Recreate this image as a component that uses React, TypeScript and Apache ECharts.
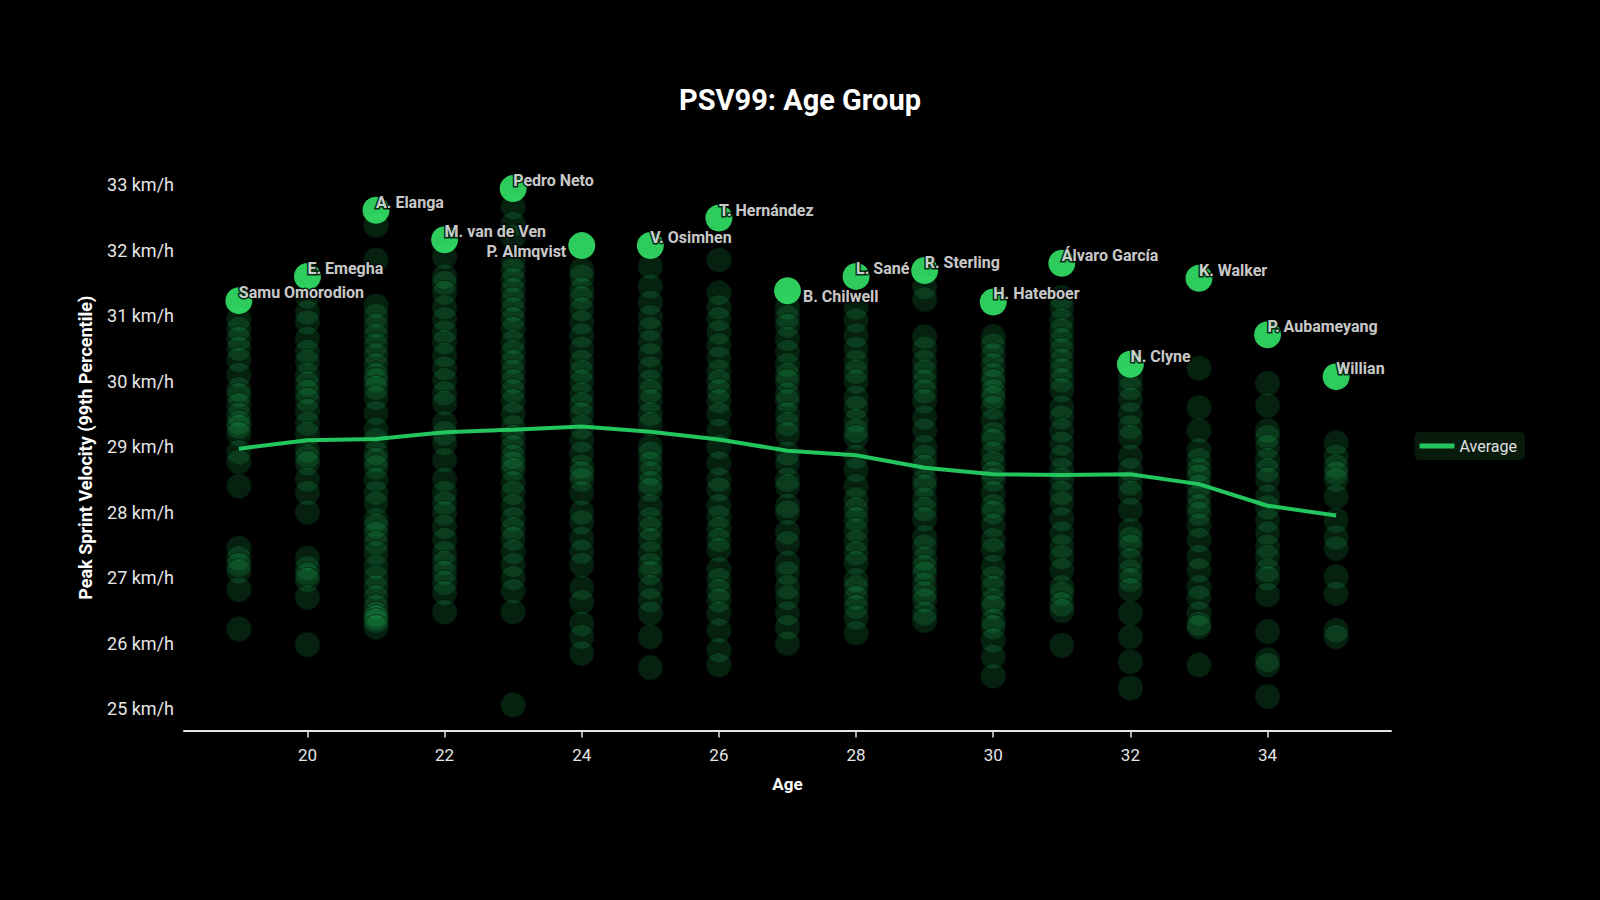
import React, { useEffect, useRef } from "react";
import * as echarts from "echarts";

const ages = [19, 20, 21, 22, 23, 24, 25, 26, 27, 28, 29, 30, 31, 32, 33, 34, 35];
const averageSpeed = [28.97, 29.1, 29.12, 29.22, 29.26, 29.31, 29.23, 29.11, 28.94, 28.87, 28.68, 28.58, 28.57, 28.58, 28.43, 28.1, 27.95];

const topNames = ["Samu Omorodion", "E. Emegha", "A. Elanga", "M. van de Ven", "Pedro Neto", "P. Almqvist", "V. Osimhen", "T. Hernández", "B. Chilwell", "L. Sané", "R. Sterling", "H. Hateboer", "Álvaro García", "N. Clyne", "K. Walker", "P. Aubameyang", "Willian"];
const topSpeeds = [31.23, 31.6, 32.61, 32.16, 32.94, 32.07, 32.07, 32.49, 31.38, 31.6, 31.69, 31.21, 31.8, 30.26, 31.57, 30.71, 30.07];

const age19 = [30.95, 30.8, 30.65, 30.5, 30.33, 30.1, 29.88, 29.79, 29.64, 29.49, 29.37, 29.31, 29.2, 28.92, 28.77, 28.4, 27.45, 27.3, 27.2, 27.1, 26.82, 26.22];
const age20 = [31.3, 31.05, 30.9, 30.65, 30.45, 30.3, 30.1, 29.97, 29.84, 29.72, 29.55, 29.36, 29.2, 28.95, 28.85, 28.75, 28.5, 28.3, 28.0, 27.3, 27.15, 27.05, 26.97, 26.7, 25.98];
const age21 = [32.38, 31.85, 31.15, 31.0, 30.85, 30.7, 30.55, 30.4, 30.25, 30.1, 30.02, 29.9, 29.75, 29.52, 29.26, 29.11, 28.91, 28.8, 28.69, 28.5, 28.3, 28.14, 27.89, 27.8, 27.68, 27.53, 27.38, 27.17, 27.01, 26.86, 26.71, 26.56, 26.45, 26.4, 26.35, 26.25];
const age22 = [31.9, 31.6, 31.5, 31.35, 31.13, 30.95, 30.75, 30.6, 30.4, 30.2, 30.02, 29.82, 29.67, 29.36, 29.21, 29.06, 28.8, 28.5, 28.3, 28.14, 27.99, 27.78, 27.58, 27.38, 27.23, 27.08, 26.93, 26.77, 26.48];
const age23 = [32.66, 32.4, 32.2, 31.85, 31.7, 31.55, 31.4, 31.25, 31.1, 30.95, 30.8, 30.6, 30.45, 30.3, 30.15, 30.0, 29.85, 29.7, 29.5, 29.3, 29.15, 29.0, 28.85, 28.75, 28.65, 28.45, 28.3, 28.1, 27.9, 27.75, 27.6, 27.4, 27.2, 27.0, 26.8, 26.48, 25.06];
const age24 = [31.7, 31.6, 31.4, 31.27, 31.1, 30.9, 30.7, 30.5, 30.3, 30.15, 30.0, 29.8, 29.65, 29.5, 29.3, 29.1, 28.9, 28.7, 28.6, 28.5, 28.3, 28.0, 27.85, 27.6, 27.4, 27.2, 26.85, 26.63, 26.3, 26.1, 25.85];
const age25 = [31.75, 31.45, 31.2, 30.98, 30.8, 30.6, 30.4, 30.2, 30.0, 29.85, 29.7, 29.5, 29.35, 29.0, 28.9, 28.75, 28.6, 28.45, 28.35, 28.1, 27.9, 27.75, 27.58, 27.38, 27.2, 27.08, 26.86, 26.66, 26.46, 26.1, 25.63];
const age26 = [31.85, 31.35, 31.13, 30.95, 30.75, 30.55, 30.35, 30.15, 30.0, 29.85, 29.7, 29.5, 29.25, 29.0, 28.75, 28.5, 28.35, 28.1, 27.93, 27.75, 27.58, 27.43, 27.13, 26.97, 26.8, 26.66, 26.46, 26.2, 25.9, 25.67];
const age27 = [31.13, 30.98, 30.85, 30.65, 30.45, 30.25, 30.1, 30.0, 29.8, 29.7, 29.5, 29.35, 29.2, 28.9, 28.75, 28.5, 28.4, 28.1, 28.0, 27.7, 27.53, 27.23, 27.07, 26.86, 26.7, 26.46, 26.25, 26.0];
const age28 = [31.13, 30.93, 30.7, 30.5, 30.3, 30.15, 30.0, 29.75, 29.6, 29.4, 29.25, 29.15, 28.85, 28.65, 28.4, 28.2, 28.05, 27.9, 27.73, 27.55, 27.38, 27.23, 26.97, 26.86, 26.7, 26.56, 26.4, 26.16];
const age29 = [31.44, 31.25, 30.68, 30.5, 30.3, 30.15, 30.0, 29.85, 29.7, 29.45, 29.25, 29.0, 28.85, 28.7, 28.5, 28.4, 28.2, 28.05, 27.9, 27.62, 27.48, 27.3, 27.17, 27.07, 26.9, 26.77, 26.66, 26.46, 26.35];
const age30 = [30.68, 30.55, 30.4, 30.25, 30.1, 30.0, 29.85, 29.75, 29.6, 29.4, 29.2, 29.1, 28.9, 28.75, 28.6, 28.5, 28.3, 28.1, 28.0, 27.8, 27.58, 27.43, 27.17, 27.0, 26.85, 26.66, 26.56, 26.35, 26.25, 26.05, 25.8, 25.5];
const age31 = [31.28, 31.13, 30.93, 30.78, 30.63, 30.48, 30.32, 30.17, 30.02, 29.87, 29.6, 29.45, 29.25, 29.05, 28.85, 28.65, 28.5, 28.3, 28.14, 27.9, 27.68, 27.48, 27.32, 27.12, 26.86, 26.76, 26.6, 26.5, 25.97];
const age32 = [30.05, 29.9, 29.72, 29.5, 29.3, 29.15, 28.85, 28.65, 28.45, 28.3, 28.04, 27.73, 27.6, 27.48, 27.27, 27.1, 26.97, 26.82, 26.46, 26.1, 25.72, 25.32];
const age33 = [30.2, 29.6, 29.25, 28.95, 28.8, 28.65, 28.55, 28.4, 28.25, 28.1, 27.98, 27.8, 27.58, 27.32, 27.12, 26.86, 26.7, 26.46, 26.3, 26.25, 25.67];
const age34 = [29.97, 29.63, 29.25, 29.15, 29.0, 28.8, 28.65, 28.5, 28.24, 28.08, 27.88, 27.68, 27.48, 27.32, 27.12, 27.0, 26.74, 26.18, 25.75, 25.67, 25.19];
const age35 = [29.06, 28.85, 28.7, 28.6, 28.5, 28.24, 27.88, 27.62, 27.45, 27.02, 26.76, 26.2, 26.1];

const yTicks = [25, 26, 27, 28, 29, 30, 31, 32, 33];
const xTicks = [20, 22, 24, 26, 28, 30, 32, 34];

const FONT = "Roboto, 'Noto Sans', sans-serif";

export default function App() {
  const ref = useRef<HTMLDivElement>(null);
  useEffect(() => {
    if (!ref.current) return;
    const chart = echarts.init(ref.current, undefined, { renderer: "svg" });
    const columns = [age19, age20, age21, age22, age23, age24, age25, age26, age27, age28, age29, age30, age31, age32, age33, age34, age35];
    const dimData: number[][] = [];
    columns.forEach((col, i) => col.forEach((v) => dimData.push([ages[i], v])));

    const topData = topNames.map((name, i) => {
      const item: any = { name, value: [ages[i], topSpeeds[i]] };
      if (name === "P. Almqvist") {
        item.label = { position: "left", align: "right", distance: 2, offset: [0, 6] };
      } else if (name === "B. Chilwell") {
        item.label = { position: "right", align: "left", distance: 2, offset: [0, 6] };
      }
      return item;
    });

    chart.setOption({
      animation: false,
      backgroundColor: "#000000",
      textStyle: { fontFamily: FONT },
      title: {
        text: "PSV99: Age Group",
        left: "center",
        top: 80,
        textStyle: { color: "#ffffff", fontSize: 29, fontWeight: "bold", fontFamily: FONT },
      },
      legend: {
        data: [{ name: "Average", icon: "rect" }],
        right: 75,
        top: 432,
        backgroundColor: "#071a0c",
        borderRadius: 5,
        padding: [6, 8, 6, 5],
        itemWidth: 35,
        itemHeight: 5,
        itemGap: 10,
        textStyle: { color: "#e0e0e0", fontSize: 16, fontFamily: FONT },
      },
      grid: { left: 184, right: 209, top: 165, bottom: 169.5 },
      xAxis: {
        type: "value",
        min: 18.2,
        max: 35.8,
        name: "Age",
        nameLocation: "middle",
        nameGap: 45,
        nameTextStyle: { color: "#ffffff", fontSize: 17, fontWeight: "bold", fontFamily: FONT },
        axisLine: { show: true, lineStyle: { color: "#e6e6e6", width: 2 } },
        axisTick: { show: true, length: 7, lineStyle: { color: "#e6e6e6", width: 1.5 }, customValues: xTicks },
        axisLabel: { color: "#e6e6e6", fontSize: 17, margin: 16, fontFamily: FONT, customValues: xTicks },
        splitLine: { show: false },
      },
      yAxis: {
        type: "value",
        min: 24.67,
        max: 33.3,
        name: "Peak Sprint Velocity (99th Percentile)",
        nameLocation: "middle",
        nameGap: 90,
        nameTextStyle: { color: "#ffffff", fontSize: 18, fontWeight: "bold", fontFamily: FONT },
        axisLine: { show: false },
        axisTick: { show: false, customValues: yTicks },
        axisLabel: {
          color: "#e6e6e6",
          fontSize: 18,
          margin: 10,
          fontFamily: FONT,
          customValues: yTicks,
          formatter: (v: number) => `${v} km/h`,
        },
        splitLine: { show: false },
      },
      series: [
        {
          name: "Players",
          type: "scatter",
          data: dimData,
          symbolSize: 25,
          z: 2,
          itemStyle: {
            color: "rgba(34,197,94,0.21)",
            borderColor: "rgba(0,20,8,0.65)",
            borderWidth: 1,
          },
          emphasis: { disabled: true },
        },
        {
          name: "Average",
          type: "line",
          data: ages.map((a, i) => [a, averageSpeed[i]]),
          symbol: "none",
          z: 3,
          lineStyle: { color: "#22c55e", width: 4 },
          itemStyle: { color: "#22c55e" },
        },
        {
          name: "Top",
          type: "scatter",
          data: topData,
          symbolSize: 27,
          z: 4,
          itemStyle: { color: "#38ff74" },
          label: {
            show: true,
            formatter: "{b}",
            position: "inside",
            align: "left",
            verticalAlign: "middle",
            offset: [0, -8],
            color: "#ffffff",
            fontSize: 16,
            fontWeight: "bold",
            fontFamily: FONT,
            textBorderColor: "#000000",
            textBorderWidth: 3,
          },
          emphasis: { disabled: true },
        },
      ],
    });
    return () => chart.dispose();
  }, []);
  return (
    <div
      ref={ref}
      style={{ position: "fixed", left: 0, top: 0, width: 1600, height: 900, background: "#000" }}
    />
  );
}
